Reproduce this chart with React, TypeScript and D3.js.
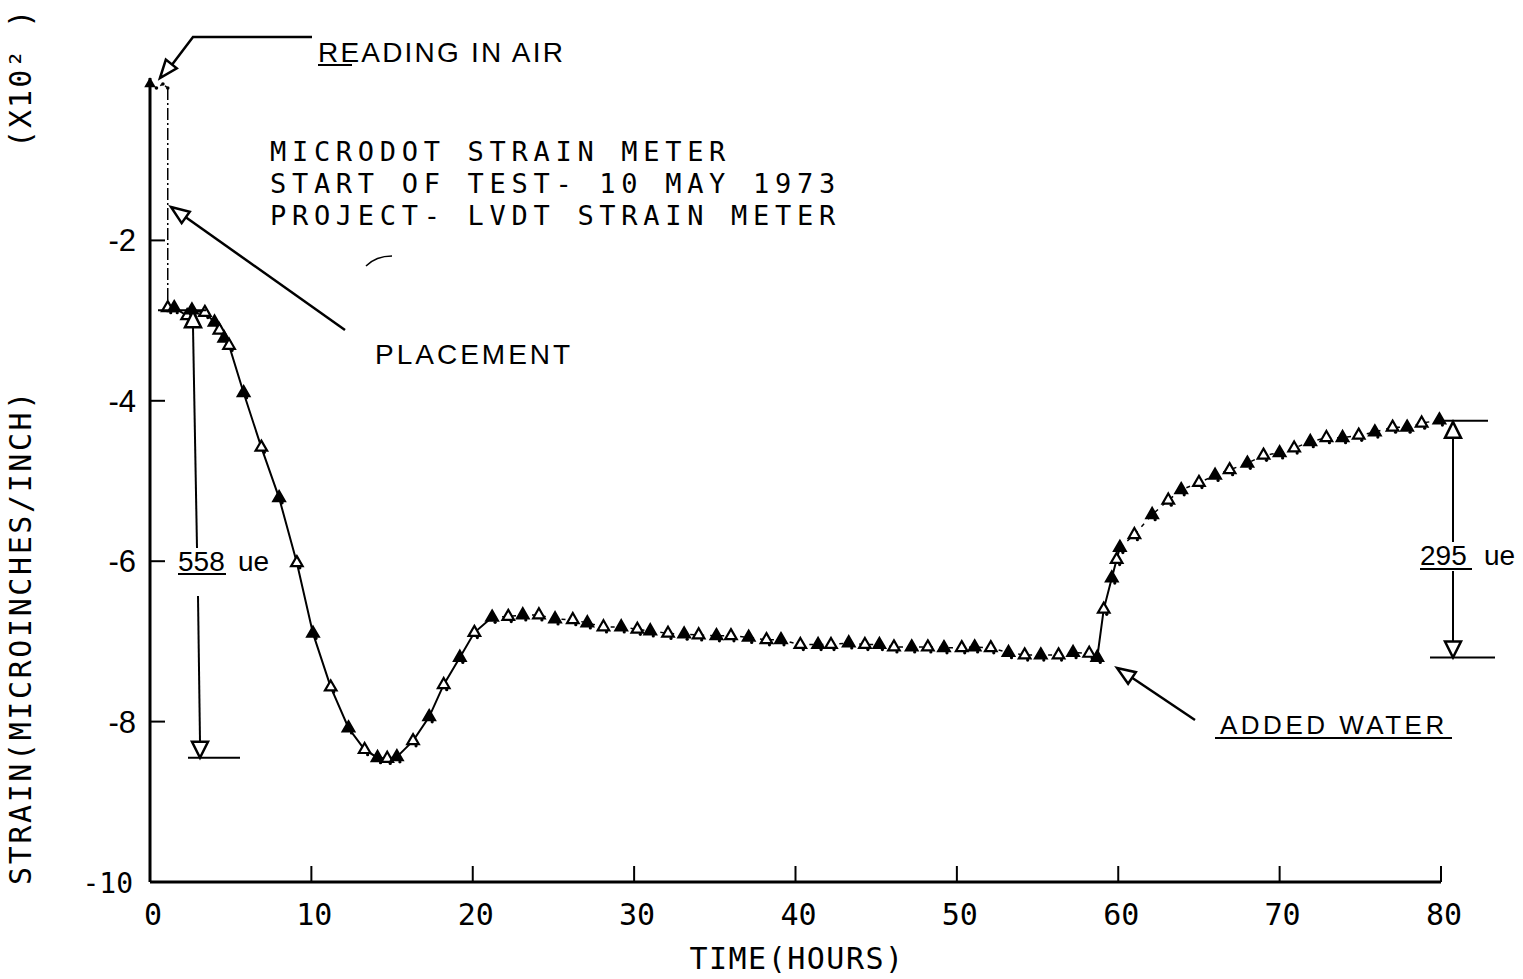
import React from "react";
import * as d3 from "d3";

// ---------- data ----------
const airTime = [0, 0.4, 0.8, 1.1];
const airStrain = [-0.05, -0.1, -0.05, -0.1];

const timeHours = [
  1.1, 1.5, 2.3, 2.6, 3.4, 4.0, 4.3, 4.6, 4.9,
  5.8, 6.9, 8.0, 9.1, 10.1, 11.2, 12.3, 13.3, 14.1, 14.7, 15.3,
  16.3, 17.3, 18.2, 19.2, 20.1, 21.2,
  22.2, 23.1, 24.1, 25.1, 26.2, 27.1, 28.1, 29.2, 30.2, 31.0,
  32.1, 33.1, 34.0, 35.1, 36.0, 37.1, 38.2, 39.1, 40.3, 41.4,
  42.2, 43.3, 44.3, 45.2, 46.1, 47.2, 48.2, 49.2, 50.3, 51.1,
  52.1, 53.2, 54.2, 55.2, 56.3, 57.2, 58.2, 58.7,
  59.1, 59.6, 59.9, 60.1, 61.0, 62.1, 63.1, 63.9, 65.0, 66.0,
  66.9, 68.0, 69.0, 70.0, 70.9, 71.9, 72.9, 73.9, 74.9, 75.9,
  77.0, 77.9, 78.8, 79.9,
];
const strain = [
  -2.84, -2.84, -2.94, -2.87, -2.9, -3.02, -3.12, -3.22, -3.31,
  -3.9, -4.58, -5.21, -6.02, -6.9, -7.57, -8.08, -8.35, -8.45, -8.46, -8.44,
  -8.24, -7.94, -7.54, -7.2, -6.89, -6.7,
  -6.69, -6.67, -6.67, -6.72, -6.73, -6.77, -6.82, -6.82, -6.85, -6.87,
  -6.9, -6.91, -6.92, -6.93, -6.93, -6.95, -6.98, -6.98, -7.04, -7.04,
  -7.04, -7.02, -7.04, -7.04, -7.07, -7.07, -7.07, -7.08, -7.08, -7.07,
  -7.08, -7.14, -7.17, -7.17, -7.17, -7.14, -7.15, -7.2,
  -6.6, -6.21, -5.98, -5.83, -5.67, -5.42, -5.24, -5.11, -5.02, -4.93,
  -4.86, -4.78, -4.68, -4.65, -4.59, -4.51, -4.46, -4.46, -4.43, -4.39,
  -4.33, -4.33, -4.28, -4.24,
];

const xTicks = [0, 10, 20, 30, 40, 50, 60, 70, 80];
const xTickLabels = ["0", "10", "20", "30", "40", "50", "60", "70", "80"];
const yTicks = [-10, -8, -6, -4, -2];
const yTickLabels = ["-10", "-8", "-6", "-4", "-2"];

const titleLines = [
  "MICRODOT STRAIN METER",
  "START OF TEST- 10 MAY 1973",
  "PROJECT- LVDT STRAIN METER",
];

// measured spans
const placementLevel = -2.87;
const span1 = 5.58; // 558 ue
const waterLevel = -7.2;
const span2 = 2.95; // 295 ue

// ---------- layout ----------
const W = 1523;
const H = 979;
const x = d3.scaleLinear().domain([0, 80]).range([150, 1441]);
const y = d3.scaleLinear().domain([-10, 0]).range([882, 80]);

const MONO = "'DejaVu Sans Mono', monospace";
const SANS = "'Liberation Sans', Arial, sans-serif";

function arrowHead(tx: number, ty: number, fx: number, fy: number, len = 18, hw = 7) {
  const dx = tx - fx;
  const dy = ty - fy;
  const d = Math.hypot(dx, dy) || 1;
  const ux = dx / d;
  const uy = dy / d;
  const bx = tx - ux * len;
  const by = ty - uy * len;
  const px = -uy * hw;
  const py = ux * hw;
  return `M${tx},${ty} L${bx + px},${by + py} L${bx - px},${by - py} Z`;
}

export default function App() {
  const pts: [number, number][] = timeHours.map((t, i) => [t, strain[i]]);
  const line = d3
    .line<[number, number]>()
    .x((d) => x(d[0]))
    .y((d) => y(d[1]));

  const seg = (a: number, b: number) => pts.filter((p) => p[0] >= a && p[0] <= b);
  const solid1 = seg(0, 21.3);
  const dash1 = seg(21.2, 58.8);
  const solid2 = seg(58.2, 60.2);
  const dash2 = seg(60.1, 80);

  const tri = d3.symbol().type(d3.symbolTriangle).size(58)();

  const airPts: [number, number][] = airTime.map((t, i) => [t, airStrain[i]]);

  const pY = y(placementLevel);
  const pBot = y(placementLevel - span1);
  const wTop = y(waterLevel + span2);
  const wBot = y(waterLevel);
  const ax1 = 197;
  const ax2 = 1453;

  return (
    <svg
      width={W}
      height={H}
      style={{ position: "absolute", left: 0, top: 0, background: "#fff", display: "block" }}
    >
      <rect x={0} y={0} width={W} height={H} fill="#fff" />

      {/* axes */}
      <line x1={x(0)} x2={x(0)} y1={y(0) - 2} y2={y(-10)} stroke="#000" strokeWidth={3} />
      <line x1={x(0)} x2={x(80)} y1={y(-10)} y2={y(-10)} stroke="#000" strokeWidth={3} />
      {xTicks.map((t, i) => (
        <g key={"xt" + t}>
          {t > 0 && (
            <line x1={x(t)} x2={x(t)} y1={y(-10)} y2={y(-10) - 16} stroke="#000" strokeWidth={2} />
          )}
          <text
            x={x(t) + 3}
            y={925}
            textAnchor="middle"
            fontFamily={MONO}
            fontSize={30}
            fill="#000"
          >
            {xTickLabels[i]}
          </text>
        </g>
      ))}
      {yTicks.map((v, i) => (
        <g key={"yt" + v}>
          {v > -10 && (
            <line x1={x(0)} x2={x(0) + 15} y1={y(v)} y2={y(v)} stroke="#000" strokeWidth={2} />
          )}
          <text
            x={v === -10 ? 133 : 136}
            y={y(v) + 11}
            textAnchor="end"
            fontFamily={v === -10 ? MONO : SANS}
            fontSize={v === -10 ? 28 : 31}
            fill="#000"
          >
            {yTickLabels[i]}
          </text>
        </g>
      ))}

      {/* axis titles */}
      <text
        x={797}
        y={969}
        textAnchor="middle"
        fontFamily={MONO}
        fontSize={30}
        letterSpacing={1.5}
        fill="#000"
      >
        TIME(HOURS)
      </text>
      <text
        transform={`translate(31,637) rotate(-90)`}
        textAnchor="middle"
        fontFamily={MONO}
        fontSize={30}
        letterSpacing={2.6}
        fill="#000"
      >
        STRAIN(MICROINCHES/INCH)
      </text>
      <text
        transform={`translate(31,148) rotate(-90)`}
        textAnchor="start"
        fontFamily={MONO}
        fontSize={30}
        letterSpacing={2}
        fill="#000"
      >
        {"(X10\u00B2 )"}
      </text>

      {/* title block */}
      {titleLines.map((s, i) => (
        <text
          key={s}
          x={270}
          y={161 + i * 32}
          fontFamily={MONO}
          fontSize={27}
          letterSpacing={5.7}
          fill="#000"
        >
          {s}
        </text>
      ))}

      {/* reading in air data */}
      <path d={line(airPts) || ""} fill="none" stroke="#000" strokeWidth={1.5} strokeDasharray="2,4" />
      <path
        d={line([airPts[airPts.length - 1], pts[0]]) || ""}
        fill="none"
        stroke="#000"
        strokeWidth={1.5}
        strokeDasharray="12,3,2,3"
      />
      <path d={tri} transform={`translate(${x(airTime[0])},${y(airStrain[0])})`} fill="#000" />
      {airPts.slice(1).map((p, i) => (
        <circle key={"a" + i} cx={x(p[0])} cy={y(p[1])} r={1.8} fill="#000" />
      ))}

      {/* main curve */}
      <path d={line(solid1) || ""} fill="none" stroke="#000" strokeWidth={2} />
      <path d={line(dash1) || ""} fill="none" stroke="#000" strokeWidth={1.5} strokeDasharray="4,6" />
      <path d={line(solid2) || ""} fill="none" stroke="#000" strokeWidth={2} />
      <path d={line(dash2) || ""} fill="none" stroke="#000" strokeWidth={1.5} strokeDasharray="4,6" />
      {pts.map((p, i) => (
        <g key={"p" + i} transform={`translate(${x(p[0])},${y(p[1])})`}>
          <path d={tri} fill={i % 2 ? "#000" : "#fff"} stroke="#000" strokeWidth={2.2} />
          <circle cx={3} cy={5} r={1.6} fill="#000" />
        </g>
      ))}

      {/* READING IN AIR annotation */}
      <polyline points="312,37 193,37 168,70" fill="none" stroke="#000" strokeWidth={2.5} />
      <path d={arrowHead(160, 78, 193, 37)} fill="#fff" stroke="#000" strokeWidth={2.5} />
      <text x={318} y={62} fontFamily={SANS} fontSize={28} letterSpacing={2.2} fill="#000">
        READING IN AIR
      </text>
      <line x1={318} x2={352} y1={65} y2={65} stroke="#000" strokeWidth={2} />

      {/* PLACEMENT annotation */}
      <line x1={345} y1={330} x2={184} y2={216} stroke="#000" strokeWidth={2.5} />
      <path d={arrowHead(171, 207, 345, 330)} fill="#fff" stroke="#000" strokeWidth={2.5} />
      <text x={375} y={364} fontFamily={SANS} fontSize={28} letterSpacing={3} fill="#000">
        PLACEMENT
      </text>
      <path d="M366,266 Q376,256 392,256" fill="none" stroke="#000" strokeWidth={1.5} />

      {/* 558 ue dimension */}
      <line x1={158} x2={206} y1={pY} y2={pY} stroke="#000" strokeWidth={2} />
      <path d={arrowHead(ax1 - 4, pY + 1, ax1 - 4, pY + 30, 16, 8)} fill="#fff" stroke="#000" strokeWidth={2.5} />
      <line x1={ax1 - 4} x2={ax1} y1={pY + 17} y2={548} stroke="#000" strokeWidth={2} />
      <line x1={ax1 + 1} x2={ax1 + 3} y1={596} y2={pBot - 16} stroke="#000" strokeWidth={2} />
      <path d={arrowHead(ax1 + 3, pBot, ax1 + 3, pBot - 30, 16, 8)} fill="#fff" stroke="#000" strokeWidth={2.5} />
      <line x1={188} x2={240} y1={pBot} y2={pBot} stroke="#000" strokeWidth={2} />
      <text x={178} y={571} fontFamily={SANS} fontSize={28} fill="#000">
        558
      </text>
      <line x1={178} x2={226} y1={574} y2={574} stroke="#000" strokeWidth={2} />
      <text x={238} y={571} fontFamily={SANS} fontSize={28} fill="#000">
        ue
      </text>

      {/* 295 ue dimension */}
      <line x1={1440} x2={1488} y1={wTop} y2={wTop} stroke="#000" strokeWidth={2} />
      <path d={arrowHead(ax2, wTop + 1, ax2, wTop + 30, 16, 8)} fill="#fff" stroke="#000" strokeWidth={2.5} />
      <line x1={ax2} x2={ax2} y1={wTop + 17} y2={542} stroke="#000" strokeWidth={2} />
      <line x1={ax2} x2={ax2} y1={571} y2={wBot - 16} stroke="#000" strokeWidth={2} />
      <path d={arrowHead(ax2, wBot, ax2, wBot - 30, 16, 8)} fill="#fff" stroke="#000" strokeWidth={2.5} />
      <line x1={1430} x2={1495} y1={wBot} y2={wBot} stroke="#000" strokeWidth={2} />
      <text x={1420} y={565} fontFamily={SANS} fontSize={28} fill="#000">
        295
      </text>
      <line x1={1420} x2={1472} y1={569} y2={569} stroke="#000" strokeWidth={2} />
      <text x={1484} y={565} fontFamily={SANS} fontSize={28} fill="#000">
        ue
      </text>

      {/* ADDED WATER annotation */}
      <line x1={1195} y1={720} x2={1128} y2={675} stroke="#000" strokeWidth={2.5} />
      <path d={arrowHead(1117, 668, 1195, 720)} fill="#fff" stroke="#000" strokeWidth={2.5} />
      <text x={1220} y={734} fontFamily={SANS} fontSize={26} letterSpacing={3.5} fill="#000">
        ADDED WATER
      </text>
      <line x1={1215} x2={1452} y1={738} y2={738} stroke="#000" strokeWidth={2} />
    </svg>
  );
}
